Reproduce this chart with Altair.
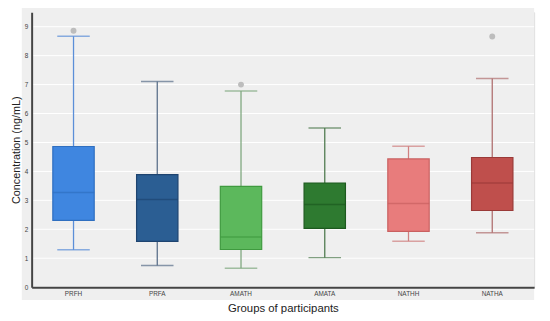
import altair as alt
import pandas as pd

groups = ["PRFH", "PRFA", "AMATH", "AMATA", "NATHH", "NATHA"]
lower = [1.29, 0.75, 0.65, 1.02, 1.59, 1.88]
q1 = [2.31, 1.58, 1.30, 2.03, 1.93, 2.65]
median = [3.27, 3.03, 1.73, 2.86, 2.89, 3.60]
q3 = [4.86, 3.89, 3.48, 3.60, 4.43, 4.48]
upper = [8.67, 7.11, 6.78, 5.50, 4.87, 7.21]

outlier_groups = ["PRFH", "AMATH", "NATHA"]
outlier_values = [8.86, 7.00, 8.66]

box_fill = ["#3f86e0", "#2b5e93", "#5cb85c", "#2e7a30", "#e87c7c", "#bf4f4c"]
box_stroke = ["#2f6fc0", "#1e4470", "#3f9a3f", "#1d5a1f", "#c96060", "#9a3a38"]
whisker_col = ["#5b8fd8", "#5a6f8a", "#7fa87f", "#4f7a4f", "#d08080", "#b07070"]

y_ticks = list(range(0, 10))

W, H = 510, 279
YT = "Concentration (ng/mL)"

df = pd.DataFrame({
    "group": groups, "lower": lower, "q1": q1, "median": median,
    "q3": q3, "upper": upper, "fill": box_fill, "stroke": box_stroke,
    "wcol": whisker_col,
})
out_df = pd.DataFrame({"group": outlier_groups, "value": outlier_values})
grid_df = pd.DataFrame({"t": y_ticks})

x_axis = alt.Axis(labelFontSize=6.5, labelColor="#444", labelAngle=0,
                  ticks=False, labelPadding=3, titlePadding=6,
                  titleFontSize=11.5, titleColor="#222", titleFontWeight="normal",
                  domainColor="#444", domainWidth=2, grid=False, zindex=1,
                  labelFont="Liberation Sans", titleFont="Liberation Sans")
x_scale = alt.Scale(domain=groups, paddingInner=0, paddingOuter=0)
x_enc = alt.X("group:N", sort=groups, title="Groups of participants",
              scale=x_scale, axis=x_axis)
y_scale = alt.Scale(domain=[0, 9.5], nice=False)
y_axis = alt.Axis(values=y_ticks, labelFontSize=6.5, labelColor="#444", ticks=False,
                  labelOverlap=False, format="d",
                  labelPadding=4, titlePadding=3, titleFontSize=11, titleColor="#222",
                  titleFontWeight="normal", domainColor="#444", domainWidth=2,
                  grid=False, zindex=1, labelFont="Liberation Sans",
                  titleFont="Liberation Sans")


def Y(field):
    return alt.Y(field, scale=y_scale, axis=y_axis, title=YT)


bg = alt.Chart(grid_df).mark_rect(color="#efefef").encode(
    x=alt.value(-10), x2=alt.value(W), y=alt.value(-5), y2=alt.value(H + 13)
).transform_filter("datum.t == 0")

grid = alt.Chart(grid_df).mark_rule(color="#ffffff", strokeWidth=1).encode(
    y=Y("t:Q")
)

base = alt.Chart(df)

whisk = base.mark_rule(strokeWidth=1.3).encode(
    x=x_enc, y=Y("lower:Q"), y2="upper:Q",
    color=alt.Color("wcol:N", scale=None),
)
cap_lo = base.mark_tick(size=33, thickness=1.5, orient="horizontal").encode(
    x=x_enc, y=Y("lower:Q"), color=alt.Color("wcol:N", scale=None)
)
cap_hi = base.mark_tick(size=33, thickness=1.5, orient="horizontal").encode(
    x=x_enc, y=Y("upper:Q"), color=alt.Color("wcol:N", scale=None)
)
box = base.mark_bar(size=42, strokeWidth=1.2).encode(
    x=x_enc, y=Y("q1:Q"), y2="q3:Q",
    fill=alt.Fill("fill:N", scale=None), stroke=alt.Stroke("stroke:N", scale=None),
)
med = base.mark_tick(size=42, thickness=1.5, orient="horizontal").encode(
    x=x_enc, y=Y("median:Q"), color=alt.Color("stroke:N", scale=None)
)
outl = alt.Chart(out_df).mark_circle(size=36, color="#bdbdbd", opacity=1).encode(
    x=x_enc, y=Y("value:Q"),
)

chart = alt.layer(bg, grid, whisk, cap_lo, cap_hi, box, med, outl).properties(
    width=W, height=H,
    autosize=alt.AutoSizeParams(type="none"),
    padding={"left": 24, "top": 2, "right": 8, "bottom": 30},
).configure_view(stroke=None, fill="#efefef").configure(background="#ffffff")

chart.save("out.html", embed_options={"renderer": "svg", "actions": False})
